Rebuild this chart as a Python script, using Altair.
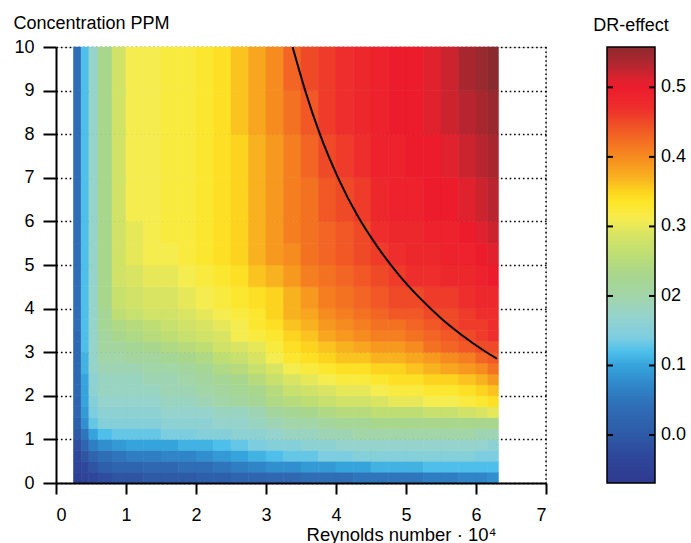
import altair as alt
import pandas as pd

# ---------------- data ----------------
# Reynolds number (x 10^4) cell edges of the measured map
re_edges = [0.25, 0.36, 0.47, 0.6, 0.8, 1.0, 1.25, 1.5, 1.75, 2.0, 2.25, 2.5, 2.75,
            3.0, 3.25, 3.5, 3.75, 4.0, 4.25, 4.5, 4.75, 5.0, 5.25, 5.5, 5.75, 6.0,
            6.17, 6.32]
# Concentration (PPM) cell edges
conc_edges = [0, 0.25, 0.5, 0.75, 1.0, 1.25, 1.5, 1.75, 2.0, 2.25, 2.5, 2.75, 3.0,
              3.25, 3.5, 3.75, 4.0, 4.5, 5.0, 5.5, 6.0, 7.0, 8.0, 9.0, 10.0]

# DR-effect, one list per concentration band (bottom to top)
dr_c00 = [-0.05, -0.04, -0.03, -0.02, -0.01, -0.01, 0.00, 0.00, 0.00, 0.01, 0.01, 0.02, 0.02, 0.03, 0.03, 0.04, 0.04, 0.04, 0.05, 0.05, 0.05, 0.05, 0.06, 0.06, 0.07, 0.07, 0.08]
dr_c01 = [-0.04, -0.03, -0.01, 0.01, 0.02, 0.02, 0.03, 0.03, 0.04, 0.04, 0.05, 0.06, 0.07, 0.08, 0.08, 0.09, 0.09, 0.10, 0.10, 0.11, 0.11, 0.11, 0.12, 0.12, 0.12, 0.12, 0.12]
dr_c02 = [-0.03, -0.01, 0.02, 0.04, 0.05, 0.06, 0.06, 0.07, 0.07, 0.08, 0.09, 0.10, 0.11, 0.12, 0.13, 0.13, 0.14, 0.14, 0.15, 0.15, 0.15, 0.15, 0.15, 0.15, 0.15, 0.14, 0.14]
dr_c03 = [-0.02, 0.02, 0.06, 0.08, 0.09, 0.10, 0.10, 0.10, 0.11, 0.11, 0.12, 0.13, 0.14, 0.15, 0.15, 0.16, 0.16, 0.17, 0.17, 0.17, 0.17, 0.17, 0.17, 0.17, 0.17, 0.17, 0.16]
dr_c04 = [0.00, 0.05, 0.10, 0.12, 0.13, 0.13, 0.13, 0.14, 0.14, 0.15, 0.15, 0.16, 0.16, 0.17, 0.18, 0.18, 0.19, 0.19, 0.20, 0.20, 0.20, 0.20, 0.20, 0.20, 0.20, 0.19, 0.19]
dr_c05 = [0.01, 0.08, 0.13, 0.15, 0.15, 0.15, 0.15, 0.16, 0.16, 0.16, 0.17, 0.17, 0.18, 0.19, 0.20, 0.20, 0.21, 0.22, 0.22, 0.23, 0.23, 0.23, 0.23, 0.23, 0.23, 0.23, 0.23]
dr_c06 = [0.02, 0.09, 0.14, 0.16, 0.16, 0.16, 0.16, 0.17, 0.17, 0.17, 0.18, 0.18, 0.19, 0.21, 0.22, 0.23, 0.24, 0.25, 0.25, 0.26, 0.26, 0.26, 0.27, 0.27, 0.28, 0.29, 0.30]
dr_c07 = [0.02, 0.10, 0.15, 0.17, 0.17, 0.17, 0.17, 0.18, 0.18, 0.19, 0.20, 0.21, 0.22, 0.24, 0.25, 0.26, 0.27, 0.28, 0.28, 0.29, 0.30, 0.30, 0.31, 0.31, 0.32, 0.33, 0.34]
dr_c08 = [0.03, 0.10, 0.16, 0.18, 0.18, 0.18, 0.18, 0.19, 0.19, 0.20, 0.21, 0.22, 0.23, 0.25, 0.27, 0.28, 0.29, 0.30, 0.30, 0.31, 0.32, 0.32, 0.33, 0.33, 0.34, 0.35, 0.36]
dr_c09 = [0.03, 0.10, 0.16, 0.18, 0.18, 0.18, 0.19, 0.19, 0.20, 0.21, 0.22, 0.23, 0.25, 0.27, 0.29, 0.30, 0.31, 0.32, 0.32, 0.33, 0.34, 0.34, 0.35, 0.35, 0.36, 0.37, 0.39]
dr_c10 = [0.03, 0.11, 0.17, 0.19, 0.19, 0.19, 0.20, 0.20, 0.21, 0.22, 0.24, 0.25, 0.27, 0.29, 0.31, 0.32, 0.33, 0.34, 0.34, 0.35, 0.35, 0.36, 0.37, 0.38, 0.39, 0.40, 0.42]
dr_c11 = [0.03, 0.11, 0.17, 0.20, 0.20, 0.21, 0.21, 0.22, 0.23, 0.24, 0.26, 0.27, 0.29, 0.31, 0.33, 0.34, 0.35, 0.36, 0.36, 0.37, 0.37, 0.38, 0.39, 0.40, 0.41, 0.43, 0.44]
dr_c12 = [0.03, 0.12, 0.17, 0.21, 0.21, 0.22, 0.23, 0.24, 0.25, 0.26, 0.28, 0.29, 0.30, 0.32, 0.34, 0.35, 0.36, 0.37, 0.38, 0.39, 0.39, 0.40, 0.42, 0.43, 0.44, 0.45, 0.45]
dr_c13 = [0.03, 0.12, 0.17, 0.21, 0.23, 0.24, 0.25, 0.26, 0.27, 0.28, 0.29, 0.31, 0.32, 0.33, 0.35, 0.36, 0.38, 0.39, 0.40, 0.41, 0.41, 0.42, 0.43, 0.44, 0.45, 0.46, 0.47]
dr_c14 = [0.04, 0.12, 0.17, 0.22, 0.24, 0.25, 0.26, 0.27, 0.28, 0.29, 0.30, 0.31, 0.33, 0.34, 0.36, 0.37, 0.39, 0.40, 0.41, 0.42, 0.42, 0.43, 0.44, 0.45, 0.46, 0.46, 0.47]
dr_c15 = [0.04, 0.12, 0.17, 0.22, 0.26, 0.27, 0.28, 0.28, 0.29, 0.30, 0.31, 0.32, 0.33, 0.35, 0.37, 0.38, 0.40, 0.41, 0.42, 0.43, 0.44, 0.44, 0.45, 0.45, 0.46, 0.47, 0.47]
dr_c16 = [0.04, 0.12, 0.17, 0.23, 0.27, 0.28, 0.29, 0.29, 0.30, 0.31, 0.32, 0.33, 0.34, 0.35, 0.37, 0.39, 0.41, 0.42, 0.43, 0.44, 0.45, 0.45, 0.46, 0.46, 0.47, 0.48, 0.48]
dr_c17 = [0.04, 0.12, 0.17, 0.23, 0.28, 0.29, 0.30, 0.30, 0.31, 0.32, 0.33, 0.34, 0.36, 0.37, 0.39, 0.41, 0.42, 0.43, 0.44, 0.45, 0.46, 0.47, 0.47, 0.48, 0.48, 0.49, 0.50]
dr_c18 = [0.04, 0.12, 0.17, 0.23, 0.28, 0.30, 0.31, 0.31, 0.32, 0.33, 0.34, 0.35, 0.37, 0.39, 0.40, 0.42, 0.43, 0.44, 0.45, 0.46, 0.47, 0.48, 0.48, 0.49, 0.49, 0.50, 0.51]
dr_c19 = [0.04, 0.12, 0.17, 0.23, 0.28, 0.30, 0.31, 0.32, 0.32, 0.33, 0.34, 0.35, 0.37, 0.39, 0.41, 0.42, 0.43, 0.44, 0.45, 0.47, 0.48, 0.48, 0.49, 0.49, 0.50, 0.51, 0.52]
dr_c20 = [0.04, 0.12, 0.17, 0.23, 0.28, 0.31, 0.31, 0.32, 0.32, 0.33, 0.34, 0.35, 0.37, 0.39, 0.41, 0.42, 0.44, 0.45, 0.46, 0.48, 0.49, 0.49, 0.50, 0.50, 0.51, 0.52, 0.53]
dr_c21 = [0.04, 0.12, 0.17, 0.23, 0.28, 0.31, 0.31, 0.32, 0.32, 0.33, 0.34, 0.35, 0.37, 0.39, 0.41, 0.43, 0.45, 0.46, 0.47, 0.49, 0.49, 0.50, 0.50, 0.51, 0.52, 0.53, 0.54]
dr_c22 = [0.04, 0.12, 0.17, 0.23, 0.28, 0.31, 0.31, 0.32, 0.32, 0.33, 0.34, 0.36, 0.38, 0.40, 0.42, 0.44, 0.46, 0.47, 0.48, 0.49, 0.50, 0.50, 0.51, 0.52, 0.53, 0.54, 0.55]
dr_c23 = [0.04, 0.12, 0.17, 0.23, 0.28, 0.31, 0.31, 0.32, 0.32, 0.33, 0.34, 0.36, 0.38, 0.40, 0.43, 0.45, 0.46, 0.47, 0.48, 0.49, 0.50, 0.50, 0.51, 0.52, 0.54, 0.55, 0.56]

dr_rows = [dr_c00, dr_c01, dr_c02, dr_c03, dr_c04, dr_c05, dr_c06, dr_c07, dr_c08, dr_c09,
           dr_c10, dr_c11, dr_c12, dr_c13, dr_c14, dr_c15, dr_c16, dr_c17, dr_c18, dr_c19,
           dr_c20, dr_c21, dr_c22, dr_c23]

# black iso-line
curve_re = [3.38, 3.56, 3.77, 4.03, 4.3, 4.6, 4.9, 5.2, 5.5, 5.8, 6.1, 6.30]
curve_conc = [10.0, 9.0, 8.0, 7.0, 6.15, 5.4, 4.77, 4.24, 3.78, 3.39, 3.05, 2.85]

x_ticks = [0, 1, 2, 3, 4, 5, 6, 7]
y_ticks = [0, 1, 2, 3, 4, 5, 6, 7, 8, 9, 10]
x_frame = [7]

# colour bar
cbar_title = "DR-effect"
cbar_ticks = [0.0, 0.1, 0.2, 0.3, 0.4, 0.5]
cbar_labels = ["0.0", "0.1", "02", "0.3", "0.4", "0.5"]
cbar_range = [-0.069, 0.558]

# colour map (value stops -> colours)
cmap_stops = [-0.069, -0.03, 0.0, 0.04, 0.07, 0.10, 0.12, 0.14, 0.17, 0.20, 0.23, 0.26,
              0.29, 0.31, 0.335, 0.35, 0.37, 0.40, 0.43, 0.45, 0.47, 0.50, 0.51, 0.53, 0.558]
cmap_colors = ["#2e3a8f", "#2f479a", "#2e5aa6", "#2f6db5", "#2f85c8", "#36a4dc", "#4ebfea",
               "#7dcde0", "#95d3cc", "#a2d5a8", "#a8d68c", "#bede74", "#d9e462", "#f5ec50",
               "#fee628", "#fcd41f", "#f9b21f", "#f68b1f", "#f26524", "#ef4a27", "#ee2e2d",
               "#ec1c2d", "#e0222e", "#b82530", "#8b2a2e"]

# ---------------- tables ----------------
records = []
for i, row in enumerate(dr_rows):
    for j, v in enumerate(row):
        records.append({"re0": re_edges[j], "re1": re_edges[j + 1],
                        "c0": conc_edges[i], "c1": conc_edges[i + 1], "dr": v})
heat_df = pd.DataFrame(records)
curve_df = pd.DataFrame({"re": curve_re, "conc": curve_conc})
frame_df = pd.DataFrame({"re": x_frame})
ticks_df = pd.DataFrame({"v": cbar_ticks, "label": cbar_labels})
bar_df = pd.DataFrame({"lo": [cbar_range[0]], "hi": [cbar_range[1]]})
title_df = pd.DataFrame({"t": [cbar_title]})

FONT = "Liberation Sans"
W, H = 490, 436

cscale = alt.Scale(domain=cmap_stops, range=cmap_colors, interpolate="rgb")
xscale = alt.Scale(domain=[0, 7], nice=False, zero=False)
yscale = alt.Scale(domain=[0, 10], nice=False, zero=False)

heat = alt.Chart(heat_df).mark_rect(strokeWidth=0.6).encode(
    x=alt.X("re0:Q", scale=xscale, axis=alt.Axis(
        values=x_ticks, format="d", grid=False, zindex=1,
        domainColor="black", domainWidth=2, tickColor="black", tickWidth=2, tickSize=11,
        labelFontSize=18, labelColor="black", labelPadding=12, labelFont=FONT,
        title="Reynolds number · 10⁴", titleFont=FONT, titleFontSize=18.5,
        titleFontWeight="normal", titleColor="black", titleAlign="center",
        titleBaseline="alphabetic", titleX=345, titleY=57)),
    x2="re1:Q",
    y=alt.Y("c0:Q", scale=yscale, axis=alt.Axis(
        values=y_ticks, format="d", grid=True, gridColor="black", gridDash=[1.6, 2.8],
        gridWidth=1.5, gridOpacity=1, zindex=0,
        domainColor="black", domainWidth=2, tickColor="black", tickWidth=2, tickSize=13,
        labelFontSize=18, labelColor="black", labelPadding=9, labelFont=FONT,
        title="Concentration PPM", titleFont=FONT, titleFontSize=18,
        titleFontWeight="normal", titleColor="black", titleAngle=0, titleAlign="left",
        titleBaseline="alphabetic", titleX=-43, titleY=-19)),
    y2="c1:Q",
    color=alt.Color("dr:Q", scale=cscale, legend=None),
    stroke=alt.Stroke("dr:Q", scale=cscale, legend=None),
)

frame = alt.Chart(frame_df).mark_rule(color="black", strokeWidth=1.5,
                                      strokeDash=[1.6, 2.8]).encode(x=alt.X("re:Q", scale=xscale))

curve = alt.Chart(curve_df).mark_line(color="black", strokeWidth=2,
                                      interpolate="monotone").encode(
    x=alt.X("re:Q", scale=xscale), y=alt.Y("conc:Q", scale=yscale))

# ---------------- colour bar (own y scale) ----------------
span = cbar_range[1] - cbar_range[0]
grad = alt.LinearGradient(
    gradient="linear", x1=0, x2=0, y1=1, y2=0,
    stops=[alt.GradientStop(color=c, offset=(s - cbar_range[0]) / span)
           for s, c in zip(cmap_stops, cmap_colors)])
cb_scale = alt.Scale(domain=cbar_range, nice=False, zero=False)

bar = alt.Chart(bar_df).mark_rect(fill=grad, stroke="black", strokeWidth=1.5).encode(
    y=alt.Y("lo:Q", scale=cb_scale, axis=None), y2="hi:Q",
    x=alt.value(551), x2=alt.value(599))
left_ticks = alt.Chart(ticks_df).mark_rule(color="black", strokeWidth=2).encode(
    y=alt.Y("v:Q", scale=cb_scale, axis=None), x=alt.value(551), x2=alt.value(557))
right_ticks = alt.Chart(ticks_df).mark_rule(color="black", strokeWidth=2).encode(
    y=alt.Y("v:Q", scale=cb_scale, axis=None), x=alt.value(593), x2=alt.value(599))
labels = alt.Chart(ticks_df).mark_text(align="left", baseline="middle", fontSize=18,
                                       font=FONT, color="black").encode(
    y=alt.Y("v:Q", scale=cb_scale, axis=None), x=alt.value(605), text="label:N")
cb_title = alt.Chart(title_df).mark_text(align="center", baseline="alphabetic", fontSize=18,
                                         font=FONT, color="black").encode(
    x=alt.value(575), y=alt.value(-16), text="t:N")

colorbar = alt.layer(bar, left_ticks, right_ticks, labels, cb_title)

chart = alt.layer(
    alt.layer(frame, heat, curve),
    colorbar,
).resolve_scale(y="independent").properties(
    width=W, height=H,
    autosize=alt.AutoSizeParams(type="none"),
    padding={"left": 56, "top": 47, "right": 145, "bottom": 60},
).configure_view(stroke=None).configure(font=FONT)

chart.save("out.html", embed_options={"renderer": "svg", "actions": False})
